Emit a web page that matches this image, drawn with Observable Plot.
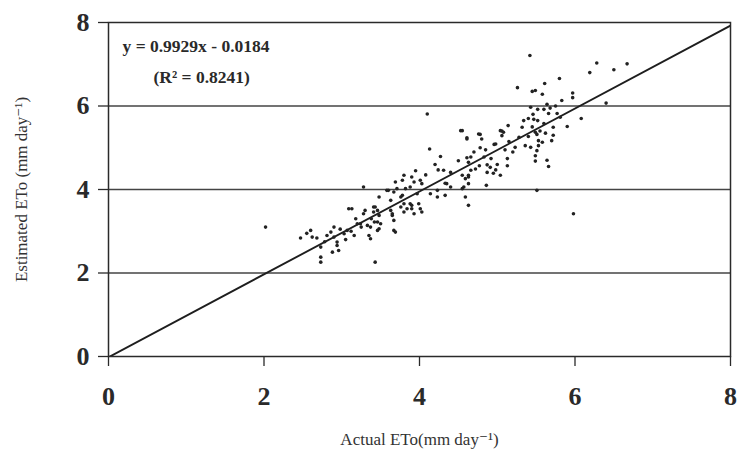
<!DOCTYPE html>
<html>
<head>
<meta charset="utf-8">
<script src="https://cdn.jsdelivr.net/npm/d3@7"></script>
<script src="https://cdn.jsdelivr.net/npm/@observablehq/plot@0.6"></script>
<style>
  html, body { margin: 0; padding: 0; background: #fff; }
  #chart svg { display: block; }
</style>
</head>
<body>
<div id="chart"></div>
<script>
// Actual ETo (x) and estimated ETo (y), mm/day
const actualETo = [
  2.02,2.47,2.60,2.62,2.68,2.73,2.73,2.73,2.81,2.86,2.90,2.90,2.88,2.94,2.96,2.94,3.03,3.07,3.09,3.13,
  3.16,3.20,3.24,3.28,3.30,3.33,3.37,3.43,3.41,3.46,3.35,3.37,3.46,3.50,3.48,3.28,3.25,3.12,2.98,2.78,
  2.55,3.05,3.18,3.38,3.42,3.46,3.48,
  3.58,3.63,3.65,3.67,3.67,3.76,3.80,3.84,3.90,3.93,3.97,3.80,3.78,3.90,3.93,4.01,4.03,3.69,3.71,3.60,
  3.67,3.82,3.88,3.78,3.48,4.14,4.23,4.33,4.35,4.40,4.55,4.59,3.43,3.41,3.63,3.65,3.76,3.80,3.88,3.90,
  3.99,4.01,4.03,3.69,4.13,4.27,4.24,4.31,4.40,4.23,4.33,4.57,4.10,4.50,4.55,4.61,4.66,4.61,4.63,4.59,
  4.63,4.63,4.55,4.53,4.61,4.63,4.66,4.63,4.20,4.08,3.95,
  4.76,4.80,4.78,4.78,4.77,4.87,4.91,4.98,4.96,4.98,5.06,5.04,5.08,5.06,5.14,5.13,5.13,5.04,4.95,4.87,
  4.86,5.23,5.26,5.32,5.34,5.36,5.43,5.40,5.43,5.40,5.47,5.52,5.42,5.45,5.49,5.58,5.49,5.51,5.53,5.58,
  5.53,5.70,5.51,5.49,5.49,5.66,5.51,4.83,4.92,5.00,4.72,5.20,5.28,5.45,5.46,5.52,4.70,4.85,5.10,5.15,
  5.61,5.80,6.19,6.28,6.50,6.67,5.97,5.97,5.83,5.64,6.40,5.60,5.66,5.77,5.81,6.08,5.90,5.72,5.60,5.98,
  5.62,5.68,5.75,5.55,5.64,5.72
];
const estimatedETo = [
  3.10,2.84,3.02,2.86,2.84,2.62,2.38,2.26,2.90,2.98,2.86,3.10,2.50,2.66,2.54,2.74,2.94,3.02,3.54,3.54,
  2.90,3.18,3.18,3.42,3.50,3.14,3.10,2.26,3.58,3.50,2.90,2.82,3.02,3.18,3.38,4.06,3.10,3.00,3.05,2.75,
  2.95,2.80,3.30,3.30,3.22,3.22,3.06,
  3.98,3.74,3.42,3.26,3.02,3.82,3.66,3.54,3.62,3.42,3.90,4.34,4.22,4.30,4.18,4.22,4.14,4.18,4.02,3.98,
  3.94,4.02,4.06,3.86,3.82,3.90,3.82,3.86,4.14,4.06,4.34,3.82,3.58,3.46,3.50,3.38,3.58,3.46,3.66,3.54,
  3.66,3.54,3.46,2.98,4.97,4.79,4.47,4.46,4.41,3.98,4.15,4.06,5.81,4.69,5.41,4.76,4.78,5.24,4.14,4.26,
  4.34,3.62,4.02,5.41,5.21,4.65,4.46,4.30,4.60,4.35,4.45,
  5.33,5.21,5.32,5.00,4.57,4.59,4.53,4.47,5.08,5.09,5.40,5.41,5.37,5.29,5.53,4.74,4.57,4.34,4.39,4.41,
  4.10,5.01,6.44,5.49,5.65,5.05,5.01,5.27,5.97,5.70,5.68,5.65,7.21,6.35,6.37,6.28,5.37,5.32,5.17,5.13,
  5.05,5.17,4.93,4.81,4.68,4.55,3.98,4.78,4.74,4.60,4.49,4.90,5.25,5.50,5.80,5.92,4.90,4.95,4.95,5.15,
  6.54,6.66,6.80,7.03,6.87,7.01,6.31,6.20,6.13,6.04,6.07,5.92,5.82,5.82,5.73,5.70,5.51,5.49,5.58,3.42,
  5.35,5.95,6.00,5.40,4.70,5.30
];
const tickValues = [0, 2, 4, 6, 8];
const gridValues = [2, 4, 6];
const slope = 0.9929;
const intercept = -0.0184;
const fitText = ["y = 0.9929x - 0.0184", "(R\u00B2 = 0.8241)"];
const xTitle = "Actual ETo(mm day\u207B\u00B9)";
const yTitle = "Estimated ETo (mm day\u207B\u00B9)";

const points = actualETo.map((x, i) => ({x, y: estimatedETo[i]}));
const fitLine = [0, 8].map(x => ({x, y: slope * x + intercept}));

const ink = "#2a2a2a";
const chart = Plot.plot({
  width: 739,
  height: 453,
  marginLeft: 108,
  marginRight: 9,
  marginTop: 22,
  marginBottom: 97,
  style: {fontFamily: "'Liberation Serif', 'DejaVu Serif', serif", fontSize: "26px", color: ink, background: "#fff"},
  x: {domain: [0, 8], ticks: tickValues, tickSize: 10, tickPadding: 20, label: xTitle, labelAnchor: "center", labelOffset: 88, labelArrow: "none"},
  y: {domain: [0, 8], ticks: tickValues, tickSize: 10, tickPadding: 9, label: yTitle, labelAnchor: "center", labelOffset: 94, labelArrow: "none"},
  marks: [
    Plot.ruleY(gridValues, {stroke: "#444", strokeWidth: 1.7}),
    Plot.frame({stroke: ink, strokeWidth: 1.5}),
    Plot.line(fitLine, {x: "x", y: "y", stroke: "#1e1e1e", strokeWidth: 1.9, clip: true}),
    Plot.dot(points, {x: "x", y: "y", r: 1.8, fill: "#222", stroke: "none"}),
    Plot.text([fitText[0]], {frameAnchor: "top-left", dx: 14, dy: 17, text: d => d, fontSize: 17.5, fontWeight: "bold", fill: ink, textAnchor: "start"}),
    Plot.text([fitText[1]], {frameAnchor: "top-left", dx: 45, dy: 48, text: d => d, fontSize: 17.5, fontWeight: "bold", fill: ink, textAnchor: "start"})
  ]
});
document.getElementById("chart").appendChild(chart);

// styling: bold tick numbers, regular axis titles
const svg = d3.select(chart);
svg.selectAll('[aria-label$="tick label"] text, [aria-label$="tick label"]').attr("font-weight", "bold");
svg.selectAll('[aria-label$="-axis label"]').attr("font-size", 17).attr("font-weight", "normal").attr("fill", "#333");
svg.selectAll('[aria-label$="-axis tick"]').attr("stroke", ink).attr("stroke-width", 1.3);
</script>
</body>
</html>
